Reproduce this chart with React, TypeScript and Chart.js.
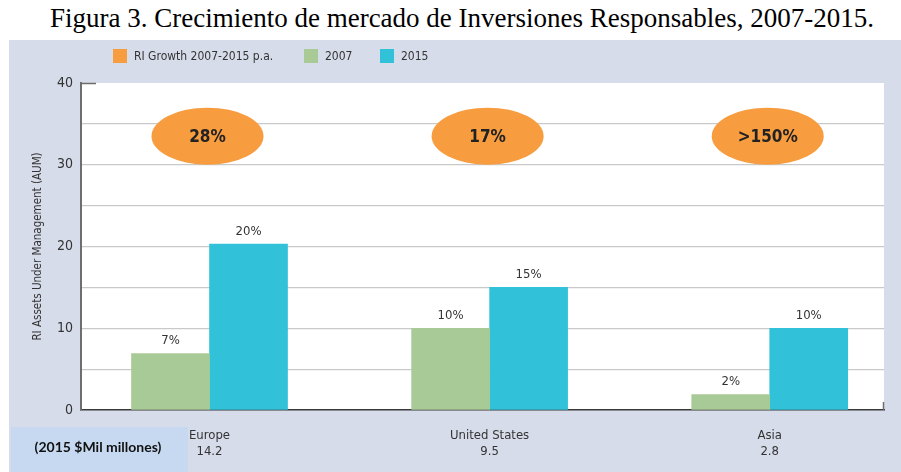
import React, { useEffect, useRef } from "react";
import { Chart, registerables } from "chart.js";

Chart.register(...registerables);

const categories = ["Europe", "United States", "Asia"];
const totals2015 = ["14.2", "9.5", "2.8"];
const values2007 = [6.9, 10.0, 1.9];
const values2015 = [20.3, 15.0, 10.0];
const labels2007 = ["7%", "10%", "2%"];
const labels2015 = ["20%", "15%", "10%"];
const growthLabels = ["28%", "17%", ">150%"];
const growthLevel = 33.5;
const legendLabels = ["RI Growth 2007-2015 p.a.", "2007", "2015"];
const yTickValues = [0, 10, 20, 30, 40];

const ORANGE = "#f79c3f";
const GREEN = "#a8ca96";
const CYAN = "#31c2da";
const PANEL = "#d6dce9";
const NARROW = '"DejaVu Sans Condensed", Roboto, "Liberation Sans", sans-serif';

const decorPlugin = {
  id: "decor",
  beforeDraw(chart: any) {
    const { ctx, chartArea } = chart;
    ctx.save();
    ctx.fillStyle = "#ffffff";
    ctx.fillRect(chartArea.left, chartArea.top, chartArea.right - chartArea.left, chartArea.bottom - chartArea.top);
    ctx.restore();
  },
  afterDraw(chart: any) {
    const { ctx, chartArea, scales } = chart;
    const xs = scales.x;
    const ys = scales.y;
    ctx.save();
    // small frame marks
    ctx.strokeStyle = "#6e6e6e";
    ctx.lineWidth = 1.5;
    ctx.beginPath();
    ctx.moveTo(chartArea.left, chartArea.top + 0.5);
    ctx.lineTo(chartArea.left + 15, chartArea.top + 0.5);
    ctx.moveTo(chartArea.right - 0.5, chartArea.bottom);
    ctx.lineTo(chartArea.right - 0.5, chartArea.bottom - 8);
    ctx.stroke();

    // value labels on bars
    ctx.fillStyle = "#333333";
    ctx.font = `13px ${NARROW}`;
    ctx.textAlign = "center";
    ctx.textBaseline = "bottom";
    const valueLabels = [labels2007, labels2015];
    chart.data.datasets.forEach((ds: any, di: number) => {
      const meta = chart.getDatasetMeta(di);
      meta.data.forEach((el: any, i: number) => {
        ctx.fillText(valueLabels[di][i], el.x, el.y - 6);
      });
    });

    // growth ellipses
    growthLabels.forEach((lab, i) => {
      const cx = xs.getPixelForValue(i) - 2;
      const cy = ys.getPixelForValue(growthLevel);
      ctx.fillStyle = ORANGE;
      ctx.beginPath();
      ctx.ellipse(cx, cy, 56, 28.5, 0, 0, Math.PI * 2);
      ctx.fill();
      ctx.fillStyle = "#222222";
      ctx.font = `bold 17px ${NARROW}`;
      ctx.textBaseline = "middle";
      ctx.fillText(lab, cx, cy + 1);
    });

    // legend
    const items = [
      { color: ORANGE, text: legendLabels[0], x: 104 },
      { color: GREEN, text: legendLabels[1], x: 295 },
      { color: CYAN, text: legendLabels[2], x: 371 },
    ];
    ctx.font = `12px ${NARROW}`;
    ctx.textAlign = "left";
    ctx.textBaseline = "middle";
    items.forEach((it) => {
      ctx.fillStyle = it.color;
      ctx.fillRect(it.x, 9, 14, 14);
      ctx.fillStyle = "#333333";
      ctx.fillText(it.text, it.x + 21, 16.5);
    });

    // units box
    ctx.fillStyle = "#c6d9f0";
    ctx.fillRect(2, 387, 177, 45);
    ctx.fillStyle = "#111111";
    ctx.font = 'bold 14px Lato, "Open Sans", sans-serif';
    ctx.textAlign = "center";
    ctx.textBaseline = "middle";
    ctx.fillText("(2015 $Mil millones)", 89, 407);
    ctx.restore();
  },
};

export default function App() {
  const ref = useRef<HTMLCanvasElement | null>(null);

  useEffect(() => {
    if (!ref.current) return;
    const chart = new Chart(ref.current, {
      type: "bar",
      data: {
        datasets: [
          {
            label: legendLabels[1],
            data: values2007.map((v, i) => ({ x: i, y: v })),
            backgroundColor: GREEN,
            barThickness: 78,
          },
          {
            label: legendLabels[2],
            data: values2015.map((v, i) => ({ x: i, y: v })),
            backgroundColor: CYAN,
            barThickness: 78,
          },
        ],
      },
      options: {
        responsive: false,
        animation: false,
        layout: { padding: { top: 43, right: 17, left: 0, bottom: 0 } },
        plugins: {
          legend: { display: false },
          tooltip: { enabled: false },
          title: { display: false },
        },
        scales: {
          x: {
            type: "linear",
            offset: false,
            min: -0.4588,
            max: 2.408,
            afterBuildTicks: (scale: any) => {
              scale.ticks = categories.map((_, i) => ({ value: i }));
            },
            afterFit: (scale: any) => {
              scale.height = 62;
            },
            grid: { display: false, drawTicks: false, offset: false },
            border: { display: true, color: "#3a3a3a", width: 1.5 },
            ticks: {
              padding: 17,
              autoSkip: false,
              maxRotation: 0,
              color: "#333333",
              font: { family: NARROW, size: 13, lineHeight: 1.25 },
              callback: (v: any) => {
                const i = Math.round(Number(v));
                return [categories[i], totals2015[i]];
              },
            },
          },
          y: {
            min: 0,
            max: 40,
            afterBuildTicks: (scale: any) => {
              const t: any[] = [];
              for (let v = 0; v <= 40; v += 5) t.push({ value: v });
              scale.ticks = t;
            },
            afterFit: (scale: any) => {
              scale.width = 72;
            },
            grid: {
              drawTicks: false,
              lineWidth: 1.2,
              color: (c: any) =>
                c.tick && (c.tick.value === 0 || c.tick.value === 40) ? "rgba(0,0,0,0)" : "#c9c9c9",
            },
            border: { display: true, color: "#6e6e6e", width: 2 },
            title: {
              display: true,
              text: "RI Assets Under Management (AUM)",
              color: "#333333",
              font: { family: NARROW, size: 11.5 },
              padding: { top: 22, bottom: 0 },
            },
            ticks: {
              padding: 8,
              color: "#333333",
              font: { family: NARROW, size: 14 },
              autoSkip: false,
              callback: (v: any) => (yTickValues.includes(Number(v)) ? String(v) : ""),
            },
          },
        },
      },
      plugins: [decorPlugin],
    });
    return () => chart.destroy();
  }, []);

  return (
    <div style={{ position: "fixed", left: 0, top: 0, width: 901, height: 472, background: "#ffffff", overflow: "hidden" }}>
      <div
        style={{
          position: "absolute",
          left: 462,
          top: 5,
          transform: "translateX(-50%)",
          whiteSpace: "nowrap",
          fontFamily: '"Liberation Serif", "Times New Roman", serif',
          fontSize: 27,
          lineHeight: "27px",
          color: "#000000",
        }}
      >
        Figura 3. Crecimiento de mercado de Inversiones Responsables, 2007-2015.
      </div>
      <div style={{ position: "absolute", left: 9, top: 40, width: 892, height: 432, background: PANEL }}>
        <canvas ref={ref} width={892} height={432} style={{ display: "block" }} />
      </div>
    </div>
  );
}
